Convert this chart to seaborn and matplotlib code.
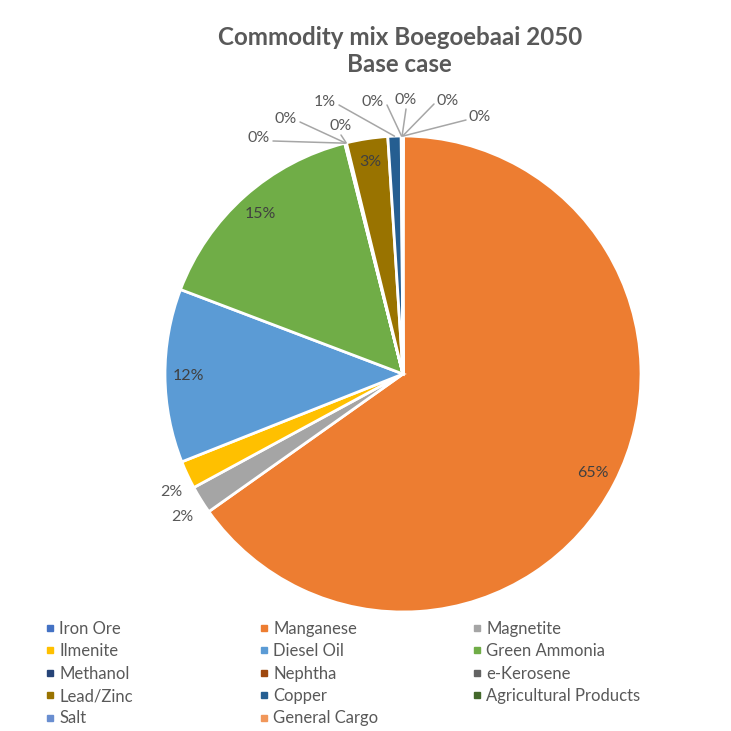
import numpy as np
import pandas as pd
import seaborn as sns
import matplotlib
matplotlib.use("Agg")
import matplotlib.pyplot as plt
from matplotlib.lines import Line2D

# ---- data ----
commodities = ["Iron Ore", "Manganese", "Magnetite", "Ilmenite", "Diesel Oil",
               "Green Ammonia", "Methanol", "Nephtha", "e-Kerosene", "Lead/Zinc",
               "Copper", "Agricultural Products", "Salt", "General Cargo"]
shares = [0.04, 65.2, 1.9, 1.9, 11.8, 15.3, 0.04, 0.04, 0.04, 2.8, 0.9, 0.04, 0.04, 0.04]
palette = ["#4472C4", "#ED7D31", "#A5A5A5", "#FFC000", "#5B9BD5", "#70AD47",
           "#264478", "#9E480E", "#636363", "#997300", "#255E91", "#43682B",
           "#698ED0", "#F1975A"]
title = "Commodity mix Boegoebaai 2050\nBase case"

# label placement for small slices (figure pixels)
outside_label_px = {0: (480, 117), 6: (259, 138), 7: (286, 119), 8: (341, 126),
                    10: (325, 102), 11: (373, 102), 12: (406, 100), 13: (448, 101),
                    2: (182, 517), 3: (171, 492)}
leader_idx = {0, 6, 7, 8, 10, 11, 12, 13}

df = pd.DataFrame({"commodity": commodities, "share": shares, "color": palette})

sns.set_theme(style="white")
plt.rcParams["font.family"] = ["Lato", "DejaVu Sans"]

W = 731
fig = plt.figure(figsize=(7.31, 7.31), dpi=100)
fig.patch.set_facecolor("white")
ax = fig.add_axes([0, 0, 1, 1])
cx, cy, R = 403, 374, 238


def to_data(px, py):
    return ((px - cx) / R, (cy - py) / R)


wedges, texts, autotexts = ax.pie(
    df["share"], colors=df["color"], startangle=90, counterclock=False, radius=1,
    autopct=lambda p: f"{p:.0f}%", pctdistance=0.9,
    wedgeprops=dict(edgecolor="white", linewidth=2),
    textprops=dict(color="#404040", fontsize=11.5))
ax.set_xlim(-cx / R, (W - cx) / R)
ax.set_ylim(-(W - cy) / R, cy / R)
ax.axis("off")

for i, t in enumerate(autotexts):
    if i in outside_label_px:
        lx, ly = to_data(*outside_label_px[i])
        t.set_position((lx, ly))
        t.set_color("#595959")
        if i in leader_idx:
            w = wedges[i]
            th = np.deg2rad((w.theta1 + w.theta2) / 2)
            ex, ey = np.cos(th), np.sin(th)
            if abs(ex - lx) * R < 15:
                sx, sy = lx, ly - 9 / R
            elif ex > lx:
                sx, sy = lx + 14 / R, ly - 3 / R
            else:
                sx, sy = lx - 14 / R, ly - 3 / R
            ax.plot([sx, ex], [sy, ey], color="#A6A6A6", lw=1.1, clip_on=False)

fig.text(0.547, 1 - 51 / W, title, ha="center", va="center", fontsize=17.4,
         fontweight="bold", color="#595959", linespacing=1.22)

# legend: three columns, row-major order
col_x = [45, 259, 472]
for c in range(3):
    idx = list(range(c, len(commodities), 3))
    handles = [Line2D([], [], marker="s", linestyle="", markersize=4.5,
                      color=palette[i]) for i in idx]
    labels = [commodities[i] for i in idx]
    fig.legend(handles, labels, loc="upper left",
               bbox_to_anchor=(col_x[c] / W, 1 - 621 / W), frameon=False,
               fontsize=12, labelcolor="#595959", handlelength=0.55,
               handletextpad=0.3, labelspacing=0.38, borderpad=0,
               borderaxespad=0)

fig.savefig("out.png", dpi=100, facecolor="white")
